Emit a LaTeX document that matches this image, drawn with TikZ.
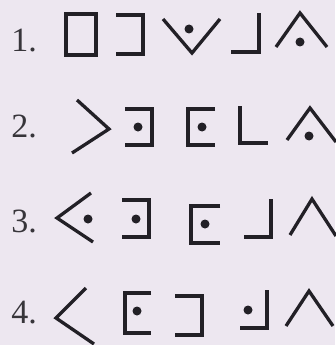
\documentclass[tikz,border=0pt]{standalone}
\usepackage{fontspec}
\setmainfont{Liberation Serif}
\definecolor{pagebg}{RGB}{237, 231, 240}
\definecolor{inkdark}{RGB}{34, 32, 38}
\definecolor{numgray}{RGB}{55, 53, 58}
\usetikzlibrary{positioning}
\tikzset{
  glyph/.style={draw=inkdark, line width=3.3pt, line cap=butt, line join=miter},
  dot/.style={fill=inkdark},
  numlabel/.style={anchor=base east, inner sep=0pt, text=numgray, font=\fontsize{34}{34}\selectfont}
}

\begin{document}
\begin{tikzpicture}[x=1pt, y=-1pt]
  \fill[pagebg] (0,0) rectangle (335,345);
  \useasboundingbox (0,0) rectangle (335,345);

  % row numbers
  \node[numlabel] (n1) at (37,52) {1.};
  \node[numlabel] (n2) at (37,137) {2.};
  \node[numlabel] (n3) at (37,232) {3.};
  \node[numlabel] (n4) at (37,323) {4.};

  % row 1
  \draw[glyph] (66,14) rectangle (96,55);
  \draw[glyph] (116,15) -- (143,15) -- (143,54) -- (116,54);
  \draw[glyph] (163,19) -- (192,53) -- (220,19);
  \fill[dot] (189,29) circle (4.5);
  \draw[glyph] (231,52) -- (259,52) -- (259,13);
  \draw[glyph] (276,47) -- (300,13) -- (327,47);
  \fill[dot] (300,42) circle (4.5);

  % row 2
  \draw[glyph] (77,100) -- (109,129) -- (72,153);
  \draw[glyph] (125,109) -- (152,109) -- (152,145) -- (125,145);
  \fill[dot] (138,127) circle (4.5);
  \draw[glyph] (215,109) -- (188,109) -- (188,145) -- (215,145);
  \fill[dot] (202,127) circle (4.5);
  \draw[glyph] (240,106) -- (240,143) -- (268,143);
  \draw[glyph] (287,140) -- (310,108) -- (336,142);
  \fill[dot] (309,136) circle (4.5);

  % row 3
  \draw[glyph] (91,193) -- (57,218) -- (93,242);
  \fill[dot] (88,219) circle (4.5);
  \draw[glyph] (122,200) -- (149,200) -- (149,237) -- (122,237);
  \fill[dot] (136,219) circle (4.5);
  \draw[glyph] (220,206) -- (191,206) -- (191,243) -- (220,243);
  \fill[dot] (205,224) circle (4.5);
  \draw[glyph] (244,237) -- (271,237) -- (271,199);
  \draw[glyph] (290,235) -- (312,199) -- (336,236);

  % row 4
  \draw[glyph] (86,288) -- (56,318) -- (94,344);
  \draw[glyph] (151,293) -- (125,293) -- (125,333) -- (151,333);
  \fill[dot] (137,311) circle (4.5);
  \draw[glyph] (175,296) -- (202,296) -- (202,335) -- (175,335);
  \draw[glyph] (240,328) -- (267,328) -- (267,290);
  \fill[dot] (248,310) circle (4.5);
  \draw[glyph] (286,326) -- (309,291) -- (333,326);
\end{tikzpicture}
\end{document}
